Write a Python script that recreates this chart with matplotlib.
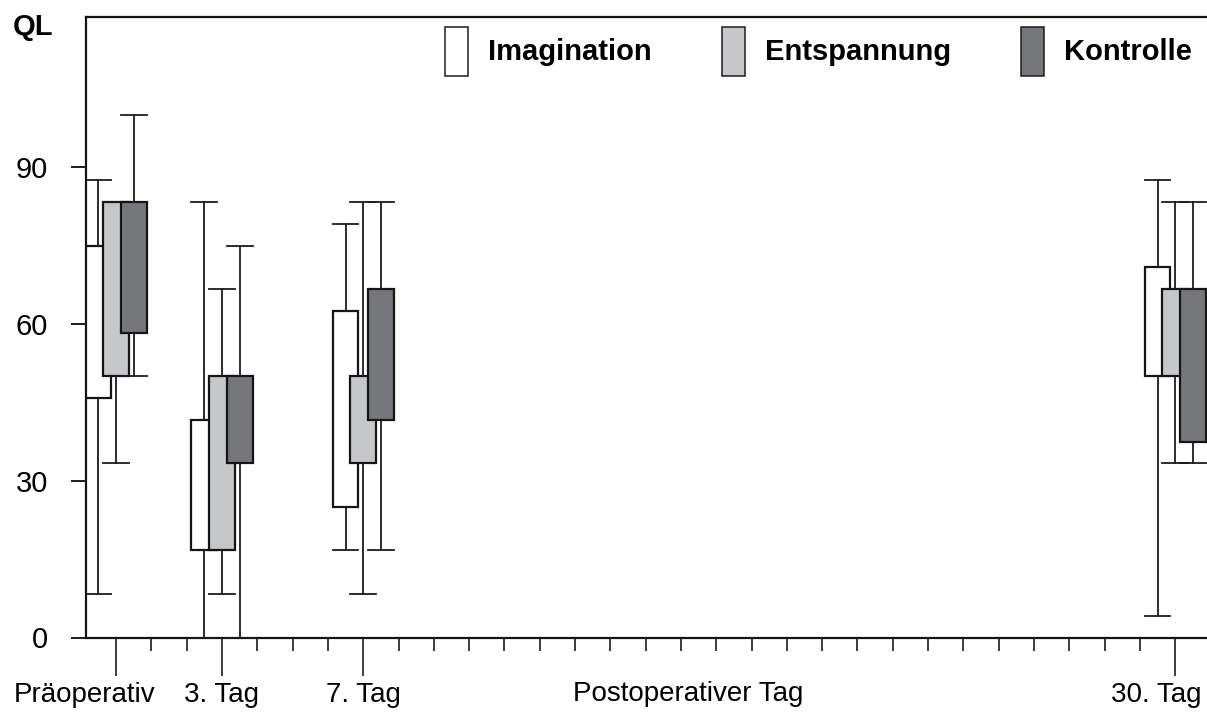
import numpy as np
import matplotlib.pyplot as plt
from matplotlib.patches import Patch
from matplotlib.transforms import ScaledTranslation

plt.rcParams['font.family'] = ['Liberation Sans', 'DejaVu Sans']

# QL-Werte (Box = Quartile, Whisker = Min/Max), je Messzeitpunkt
days   = [0, 3, 7, 30]
labels = ['Präoperativ', '3. Tag', '7. Tag', '30. Tag']
groups = ['Imagination', 'Entspannung', 'Kontrolle']

imag_lo = [8.33, 0.0, 16.67, 4.17]
imag_q1 = [45.83, 16.67, 25.0, 50.0]
imag_q3 = [75.0, 41.67, 62.5, 70.83]
imag_hi = [87.5, 83.33, 79.17, 87.5]

ents_lo = [33.33, 8.33, 8.33, 33.33]
ents_q1 = [50.0, 16.67, 33.33, 50.0]
ents_q3 = [83.33, 50.0, 50.0, 66.67]
ents_hi = [83.33, 66.67, 83.33, 83.33]

kont_lo = [50.0, 0.0, 16.67, 33.33]
kont_q1 = [58.33, 33.33, 41.67, 37.5]
kont_q3 = [83.33, 50.0, 66.67, 66.67]
kont_hi = [100.0, 75.0, 83.33, 83.33]

data = [(imag_lo, imag_q1, imag_q3, imag_hi),
        (ents_lo, ents_q1, ents_q3, ents_hi),
        (kont_lo, kont_q1, kont_q3, kont_hi)]
colors = ['white', '#c6c7c9', '#75777a']
offsets = [-0.5, 0.0, 0.5]
width = 0.73

fig = plt.figure(figsize=(12.07, 7.14), dpi=100)
ax = fig.add_axes([85.7 / 1207, 1 - 637.5 / 714, 1 - 85.7 / 1207, (637.5 - 16.7) / 714])

for k, (lo, q1, q3, hi) in enumerate(data):
    stats = []
    for i in range(len(days)):
        stats.append(dict(whislo=lo[i], q1=q1[i], med=q1[i], q3=q3[i], whishi=hi[i]))
    pos = [d + offsets[k] for d in days]
    ax.bxp(stats, positions=pos, widths=width, capwidths=width, patch_artist=True,
           showfliers=False, manage_ticks=False,
           boxprops=dict(facecolor=colors[k], edgecolor='#151515', linewidth=1.6),
           whiskerprops=dict(color='#1c1c1c', linewidth=1.3),
           capprops=dict(color='#1c1c1c', linewidth=1.3),
           medianprops=dict(visible=False),
           zorder=3 + k)

ax.set_xlim(-0.86, 30.9)
ax.set_ylim(0, 118.8)

ax.set_yticks([0, 30, 60, 90])
ax.set_yticklabels(['0', '30', '60', '90'])
ax.set_xticks(days)
ax.set_xticklabels(labels)
ax.set_xticks([d for d in range(1, 30) if d not in days], minor=True)

ax.tick_params(axis='y', length=10.8, width=1.4, pad=16.5, labelsize=21, color='#1c1c1c')
ax.tick_params(axis='x', which='major', length=27, width=1.2, pad=5, labelsize=20, color='#1c1c1c')
ax.tick_params(axis='x', which='minor', length=9, width=1.2, color='#1c1c1c')

# erste und letzte Beschriftung seitlich verschoben wie im Original
xlabs = ax.get_xticklabels()
xlabs[0].set_transform(xlabs[0].get_transform() + ScaledTranslation(-0.32, 0, fig.dpi_scale_trans))
xlabs[-1].set_transform(xlabs[-1].get_transform() + ScaledTranslation(-0.19, 0, fig.dpi_scale_trans))

for s in ['left', 'bottom', 'top']:
    ax.spines[s].set_linewidth(1.6)
    ax.spines[s].set_color('#151515')
ax.spines['right'].set_visible(False)

ax.text(16.2, -0.0707, 'Postoperativer Tag', transform=ax.get_xaxis_transform(),
        ha='center', va='top', fontsize=20)
fig.text(13 / 1207, 1 - 26.7 / 714, 'QL', fontsize=21, fontweight='bold', va='center', ha='left')

handles = [Patch(facecolor=c, edgecolor='#1c1c1c', linewidth=1.1) for c in colors]
leg = ax.legend(handles, groups, ncol=3, loc='upper left', frameon=False,
                bbox_to_anchor=(445 / 1207, 1 - 26.7 / 714), bbox_transform=fig.transFigure,
                prop=dict(size=21, weight='bold'), borderpad=0, borderaxespad=0,
                handlelength=0.8, handleheight=2.2, handletextpad=0.68, columnspacing=2.4)

fig.savefig('out.png', dpi=100)
